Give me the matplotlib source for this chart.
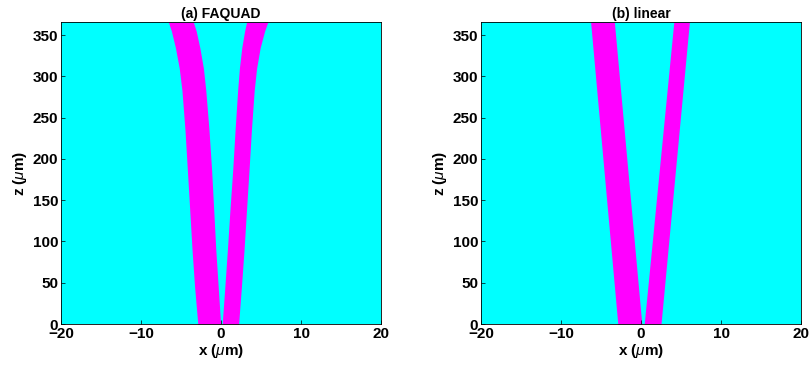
"""
Waveguide layouts: FAQUAD vs linear coupler (two panels)
"""
import matplotlib
matplotlib.use('Agg')
import matplotlib.pyplot as plt

plt.rcParams['font.family'] = ['Liberation Sans', 'DejaVu Sans']
plt.rcParams['mathtext.fontset'] = 'custom'
plt.rcParams['mathtext.it'] = 'Liberation Sans:italic'

CYAN = '#00ffff'
MAGENTA = '#ff00ff'

Z_MAX = 366

# (a) FAQUAD: guide edges (x, um) read at several heights z (um)
z_faquad = [0, 45, 90, 140, 186, 235, 283, 310, 335, 355, 366]
left_outer_faquad = [-2.9, -3.3, -3.62, -3.92, -4.2, -4.5, -4.88, -5.22, -5.7, -6.2, -6.58]
left_inner_faquad = [-0.05, -0.35, -0.65, -0.92, -1.17, -1.5, -1.9, -2.2, -2.65, -3.1, -3.46]
right_inner_faquad = [0.15, 0.48, 0.8, 1.13, 1.46, 1.76, 2.08, 2.3, 2.6, 2.95, 3.2]
right_outer_faquad = [2.2, 2.55, 2.88, 3.2, 3.5, 3.8, 4.15, 4.45, 4.9, 5.45, 5.85]

# (b) linear: straight guides, edges at bottom and top
z_linear = [0, 366]
left_outer_linear = [-2.9, -6.3]
left_inner_linear = [0.1, -3.33]
right_inner_linear = [0.4, 4.1]
right_outer_linear = [2.5, 6.05]

x_ticks = [-20, -10, 0, 10, 20]
z_ticks = [0, 50, 100, 150, 200, 250, 300, 350]

fig = plt.figure(figsize=(8.11, 3.73), dpi=100)
ax_a = fig.add_axes([61 / 811, 49 / 373, 320 / 811, 302 / 373])
ax_b = fig.add_axes([481 / 811, 49 / 373, 320 / 811, 302 / 373])

panels = [
    (ax_a, '(a) FAQUAD', z_faquad, left_outer_faquad, left_inner_faquad,
     right_inner_faquad, right_outer_faquad),
    (ax_b, '(b) linear', z_linear, left_outer_linear, left_inner_linear,
     right_inner_linear, right_outer_linear),
]

for ax, title, z, lo, li, ri, ro in panels:
    ax.set_facecolor(CYAN)
    ax.fill_betweenx(z, lo, li, color=MAGENTA, linewidth=0)
    ax.fill_betweenx(z, ri, ro, color=MAGENTA, linewidth=0)
    ax.set_xlim(-20, 20)
    ax.set_ylim(0, Z_MAX)
    ax.set_xticks(x_ticks)
    ax.set_yticks(z_ticks)
    ax.tick_params(direction='in', length=3, width=0.5, labelsize=11, pad=2)
    for lab in ax.get_xticklabels() + ax.get_yticklabels():
        lab.set_fontweight('bold')
    for sp in ax.spines.values():
        sp.set_linewidth(0.6)
    ax.set_title(title, fontsize=10, fontweight='bold', pad=3)
    ax.set_xlabel(r'x ($\mu$m)', fontsize=11, fontweight='bold', labelpad=1)
    ax.set_ylabel(r'z ($\mu$m)', fontsize=11, fontweight='bold', labelpad=3)

fig.savefig('out.png', dpi=100)
plt.close(fig)
